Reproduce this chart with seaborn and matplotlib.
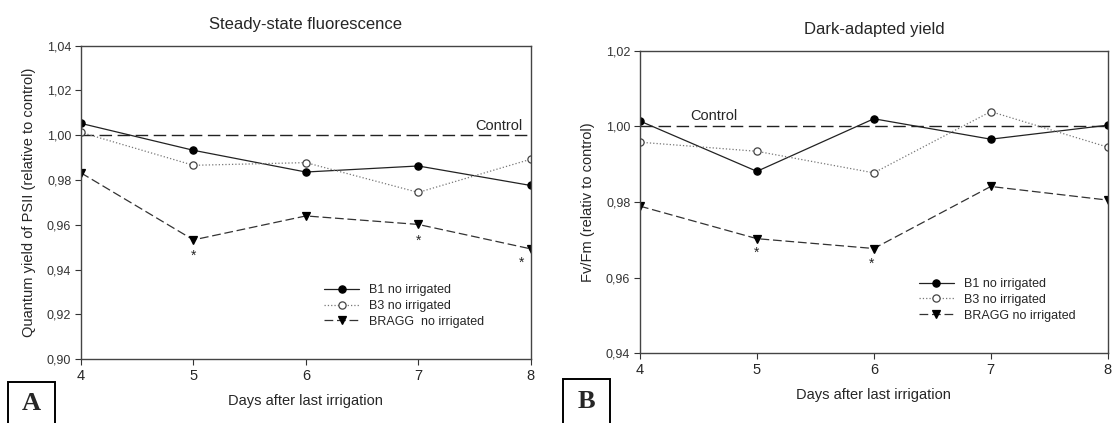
import numpy as np
import pandas as pd
import matplotlib
matplotlib.use("Agg")
import matplotlib.pyplot as plt
from matplotlib.patches import Rectangle
import seaborn as sns

# ---------------- data ----------------
days = [4, 5, 6, 7, 8]
series_names = ["B1 no irrigated", "B3 no irrigated", "BRAGG  no irrigated"]
series_names_b = ["B1 no irrigated", "B3 no irrigated", "BRAGG no irrigated"]

a_b1 = [1.0053, 0.9933, 0.9836, 0.9863, 0.9776]
a_b3 = [1.0013, 0.9866, 0.9878, 0.9745, 0.9893]
a_bragg = [0.9832, 0.9533, 0.9640, 0.9602, 0.9493]
a_star_x = [5, 7, 7.92]
a_star_y = [0.9462, 0.9530, 0.9432]

b_b1 = [1.0014, 0.9881, 1.0020, 0.9966, 1.0003]
b_b3 = [0.9958, 0.9934, 0.9877, 1.0039, 0.9945]
b_bragg = [0.9789, 0.9703, 0.9677, 0.9841, 0.9805]
b_star_x = [5, 5.98]
b_star_y = [0.9665, 0.9636]

control = 1.0
a_yticks = [0.90, 0.92, 0.94, 0.96, 0.98, 1.00, 1.02, 1.04]
b_yticks = [0.94, 0.96, 0.98, 1.00, 1.02]
a_ytick_labels = ["0,90", "0,92", "0,94", "0,96", "0,98", "1,00", "1,02", "1,04"]
b_ytick_labels = ["0,94", "0,96", "0,98", "1,00", "1,02"]

# ---------------- style ----------------
sns.set_style("ticks")
plt.rcParams["font.family"] = ["Liberation Sans", "DejaVu Sans"]

fig = plt.figure(figsize=(11.13, 4.23), dpi=100)
axA = fig.add_axes([0.0728, 0.1506, 0.4040, 0.7414])
axB = fig.add_axes([0.5750, 0.1648, 0.4202, 0.7154])

styles = [
    dict(marker="o", linestyle="-", color="#222222", markerfacecolor="black",
         markeredgecolor="black", markersize=5.2, linewidth=0.9),
    dict(marker="o", linestyle=":", color="#777777", markerfacecolor="white",
         markeredgecolor="#444444", markersize=5.2, linewidth=0.9),
    dict(marker="v", linestyle=(0, (7, 3)), color="#333333", markerfacecolor="black",
         markeredgecolor="black", markersize=6, linewidth=0.9),
]


def draw(ax, vals, names, yticks, ylabels, stars_x, stars_y, title, ylabel,
         ctrl_x, ctrl_ha, legend_anchor):
    for v, name, st in zip(vals, names, styles):
        df = pd.DataFrame({"day": days, "val": v})
        sns.lineplot(data=df, x="day", y="val", ax=ax, label=name,
                     markeredgewidth=0.9, **st)
    ax.axhline(control, color="#222222", linewidth=1.0, dashes=(9, 4), zorder=1)
    ax.text(ctrl_x, control + (yticks[1] - yticks[0]) * 0.04, "Control",
            ha=ctrl_ha, va="bottom", fontsize=10.5)
    for sx, sy in zip(stars_x, stars_y):
        ax.text(sx, sy, "*", ha="center", va="center", fontsize=10)
    ax.set_xlim(4, 8)
    ax.set_ylim(yticks[0], yticks[-1])
    ax.set_xticks(days)
    ax.set_xticklabels([str(d) for d in days], fontsize=10.5)
    ax.set_yticks(yticks)
    ax.set_yticklabels(ylabels, fontsize=9, color="#333333")
    ax.tick_params(axis="both", direction="out", length=4, width=0.8,
                   color="#333333", pad=3)
    for s in ax.spines.values():
        s.set_visible(True)
        s.set_linewidth(1.0)
        s.set_color("#444444")
    ax.set_title(title, fontsize=12, pad=12)
    ax.set_xlabel("Days after last irrigation", fontsize=10.5, labelpad=8)
    ax.set_ylabel(ylabel, fontsize=10.5, labelpad=8)
    ax.legend(loc="upper left", bbox_to_anchor=legend_anchor, frameon=False,
              fontsize=9, handlelength=2.8, handletextpad=0.8,
              labelspacing=0.3, borderaxespad=0)


draw(axA, [a_b1, a_b3, a_bragg], series_names, a_yticks, a_ytick_labels,
     a_star_x, a_star_y, "Steady-state fluorescence",
     "Quantum yield of PSII (relative to control)", 7.93, "right", (0.53, 0.255))
draw(axB, [b_b1, b_b3, b_bragg], series_names_b, b_yticks, b_ytick_labels,
     b_star_x, b_star_y, "Dark-adapted yield",
     "Fv/Fm (relativ to control)", 4.43, "left", (0.585, 0.265))

# panel letters
for x0, x1, ytop, letter, tx, ty in [(0.0072, 0.0494, 0.097, "A", 0.0283, 0.045),
                                     (0.5058, 0.5480, 0.104, "B", 0.5269, 0.052)]:
    fig.add_artist(Rectangle((x0, -0.02), x1 - x0, ytop + 0.02,
                             transform=fig.transFigure, fill=False,
                             edgecolor="black", linewidth=1.4))
    fig.text(tx, ty, letter, ha="center", va="center", fontsize=19,
             fontweight="bold", family=["Liberation Serif", "DejaVu Serif"])

fig.savefig("out.png", dpi=100)
